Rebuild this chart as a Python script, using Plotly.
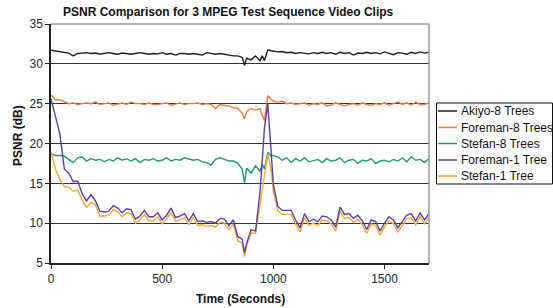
import plotly.graph_objects as go

# time axis (seconds); denser sampling around the scene-change spike
times = list(range(0, 861, 20)) + [870, 880, 900, 920, 940, 950, 960, 975, 990, 1000] + list(range(1020, 1701, 20))

akiyo_8 = [31.7, 31.6, 31.55, 31.45, 31.35, 31.0, 31.3, 31.35, 31.4, 31.3, 31.35, 31.2, 31.3, 31.4, 31.3,
           31.2, 31.35, 31.3, 31.2, 31.3, 31.4, 31.3, 31.2, 31.3, 31.25, 31.4, 31.2, 31.3, 31.1, 31.3,
           31.3, 31.2, 31.3, 31.2, 31.1, 31.4, 31.3, 31.2, 31.3, 31.2, 31.1, 31.0, 31.0, 30.8,
           29.8, 30.7, 30.5, 31.0, 30.4, 31.0, 30.4, 31.75, 31.65, 31.6,
           31.5, 31.55, 31.4, 31.45, 31.3, 31.4, 31.35, 31.25, 31.4, 31.3, 31.45, 31.3, 31.4, 31.2, 31.45,
           31.3, 31.4, 31.1, 31.35, 31.3, 31.45, 31.3, 31.4, 31.25, 31.5, 31.3, 31.15, 31.4, 31.35, 31.2,
           31.45, 31.3, 31.5, 31.35, 31.45]

foreman_8 = [26.1, 25.5, 25.5, 25.3, 25.0, 25.1, 24.9, 25.0, 25.1, 25.0, 25.2, 24.9, 25.0, 25.1, 24.8,
             25.0, 25.1, 24.9, 25.2, 25.0, 25.0, 24.9, 25.1, 24.9, 24.9, 25.0, 25.1, 24.8, 25.0, 25.1,
             24.9, 25.0, 25.0, 25.1, 24.9, 25.0, 24.9, 24.4, 24.9, 24.8, 24.7, 24.5, 24.4, 23.8,
             23.1, 24.0, 24.4, 24.2, 24.4, 23.5, 22.9, 26.0, 25.6, 25.3,
             25.2, 25.3, 25.0, 25.1, 24.9, 25.0, 25.1, 24.8, 25.0, 24.9, 25.1, 24.7, 24.8, 25.1, 24.9,
             24.7, 24.9, 25.0, 24.8, 25.1, 24.9, 24.8, 25.0, 24.9, 25.1, 24.8, 25.0, 25.2, 24.9, 25.1,
             24.8, 25.2, 24.9, 24.9, 25.1]

stefan_8 = [18.7, 18.5, 18.5, 18.4, 18.0, 17.6, 18.2, 18.3, 17.8, 18.1, 17.9, 18.0, 17.7, 18.0, 17.8,
            18.2, 17.9, 18.1, 17.8, 18.1, 17.6, 18.0, 17.9, 18.1, 17.8, 17.9, 18.2, 17.8, 18.0, 17.9,
            18.2, 18.0, 17.9, 18.0, 17.7, 17.6, 17.3, 18.0, 18.2, 18.0, 17.8, 17.8, 17.5, 16.8,
            15.1, 16.9, 16.3, 17.2, 16.5, 17.4, 16.8, 18.9, 18.4, 18.5,
            18.3, 17.9, 18.2, 17.6, 18.1, 17.8, 18.2, 17.7, 17.9, 18.0, 17.6, 18.1, 17.8, 17.9, 18.2,
            17.6, 17.9, 18.0, 17.5, 17.9, 17.8, 18.1, 17.5, 17.8, 17.9, 17.7, 18.0, 17.8, 18.2, 17.7,
            18.3, 17.9, 18.0, 17.6, 18.1]

foreman_1 = [25.6, 23.5, 21.2, 16.8, 16.3, 15.2, 15.3, 13.7, 12.8, 13.6, 12.8, 11.5, 11.4, 11.5, 12.2,
             11.9, 11.3, 11.8, 11.7, 10.5, 10.9, 11.6, 10.8, 10.8, 11.3, 10.4, 11.0, 11.9, 10.7, 10.9,
             11.2, 10.3, 11.2, 10.2, 10.3, 10.1, 10.2, 10.0, 10.6, 10.5, 9.7, 10.4, 8.3, 8.0,
             6.3, 7.5, 9.2, 9.0, 13.9, 17.8, 22.0, 25.0, 18.5, 14.9,
             12.1, 11.6, 11.6, 11.6, 10.4, 9.4, 11.2, 10.2, 10.5, 10.2, 10.9, 10.8, 10.4, 9.5, 12.0,
             11.1, 11.2, 10.6, 11.0, 10.3, 9.2, 10.4, 10.2, 9.0, 10.0, 10.8, 10.4, 9.4, 10.2, 11.0,
             11.2, 10.3, 11.3, 10.4, 11.2]

stefan_1 = [19.0, 16.8, 15.5, 14.6, 14.5, 14.0, 14.2, 12.9, 12.0, 12.6, 12.3, 10.9, 10.9, 11.0, 11.7,
            11.4, 10.8, 11.3, 11.2, 10.0, 10.4, 11.1, 10.3, 10.3, 10.8, 9.9, 10.5, 11.4, 10.2, 10.4,
            10.7, 9.8, 10.7, 9.7, 9.8, 9.6, 9.7, 9.5, 10.1, 10.0, 9.2, 9.9, 7.8, 7.5,
            5.8, 7.2, 8.8, 8.7, 12.5, 14.0, 16.5, 18.7, 16.8, 14.0,
            11.6, 11.1, 11.1, 11.1, 9.9, 8.9, 10.7, 9.7, 10.0, 9.7, 10.4, 10.3, 9.9, 9.0, 11.5,
            10.6, 10.7, 10.1, 10.5, 9.8, 8.7, 9.9, 9.7, 8.5, 9.5, 10.3, 9.9, 8.9, 9.7, 10.5,
            10.7, 9.8, 10.8, 9.9, 10.7]

series_names = ["Akiyo-8 Trees", "Foreman-8 Trees", "Stefan-8 Trees", "Foreman-1 Tree", "Stefan-1 Tree"]
series_values = [akiyo_8, foreman_8, stefan_8, foreman_1, stefan_1]
series_colors = ["#1e1e1e", "#f3783a", "#22977a", "#5b3fa3", "#f9a832"]

x_ticks = [0, 500, 1000, 1500]
y_ticks = [5, 10, 15, 20, 25, 30, 35]

FONT = "Liberation Sans, Arial, Helvetica, sans-serif"

fig = go.Figure()
# draw 8-tree series first, 1-tree on top
order = [0, 1, 2, 4, 3]
for i in order:
    fig.add_trace(go.Scatter(x=times, y=series_values[i], mode="lines", name=series_names[i],
                             line=dict(color=series_colors[i], width=1.4), showlegend=False))

W, H = 553, 308
L, R, T, B = 51, 429, 24, 263
pw, ph = R - L, B - T

def px(x):
    return (x - L) / pw

def py(y):
    return (B - y) / ph

shapes = []
annotations = []
# top and right gray frame
shapes.append(dict(type="line", xref="paper", yref="paper", x0=0, x1=1, y0=1, y1=1,
                   line=dict(color="#9a9a9a", width=1.5)))
shapes.append(dict(type="line", xref="paper", yref="paper", x0=1, x1=1, y0=0, y1=1,
                   line=dict(color="#9a9a9a", width=1.5)))

# manual legend
shapes.append(dict(type="rect", xref="paper", yref="paper", x0=px(436.5), x1=px(552.5),
                   y0=py(184), y1=py(103), line=dict(color="#111111", width=1), fillcolor="white"))
leg_y = [111, 127.5, 143.5, 160, 176]
for i in range(5):
    shapes.append(dict(type="line", xref="paper", yref="paper", x0=px(438), x1=px(457),
                       y0=py(leg_y[i]), y1=py(leg_y[i]), line=dict(color=series_colors[i], width=1.5)))
    annotations.append(dict(text=series_names[i], xref="paper", yref="paper", x=px(459), y=py(leg_y[i]),
                            xanchor="left", yanchor="middle", showarrow=False,
                            font=dict(family=FONT, size=12, color="#111111")))

# title and axis titles
annotations.append(dict(text="<b>PSNR Comparison for 3 MPEG Test Sequence Video Clips</b>", xref="paper",
                        yref="paper", x=px(228), y=py(12), xanchor="center", yanchor="middle",
                        showarrow=False, font=dict(family=FONT, size=12, color="#111111")))
annotations.append(dict(text="<b>Time (Seconds)</b>", xref="paper", yref="paper", x=px(240), y=py(299),
                        xanchor="center", yanchor="middle", showarrow=False,
                        font=dict(family=FONT, size=12, color="#111111")))
annotations.append(dict(text="<b>PSNR (dB)</b>", xref="paper", yref="paper", x=px(18), y=py(136),
                        xanchor="center", yanchor="middle", textangle=-90, showarrow=False,
                        font=dict(family=FONT, size=12, color="#111111")))

fig.update_layout(
    width=W, height=H,
    margin=dict(l=L, r=W - R, t=T, b=H - B, pad=0),
    paper_bgcolor="white", plot_bgcolor="white",
    font=dict(family=FONT, size=12, color="#222222"),
    shapes=shapes, annotations=annotations,
    showlegend=False,
)
fig.update_xaxes(range=[0, 1700], tickvals=x_ticks, ticks="outside", ticklen=4, tickcolor="#222",
                 showgrid=False, zeroline=False, showline=True, linecolor="#222", linewidth=1.5,
                 tickfont=dict(size=12, color="#222"))
fig.update_yaxes(range=[5, 35], tickvals=y_ticks, ticks="outside", ticklen=4, tickcolor="#222",
                 showgrid=True, gridcolor="#333333", gridwidth=1, zeroline=False, showline=True,
                 linecolor="#222", linewidth=1.5, tickfont=dict(size=12, color="#222"))

fig.write_html("out.html", config={"displayModeBar": False},
               post_script="document.body.style.margin='0';document.body.style.overflow='hidden';")
